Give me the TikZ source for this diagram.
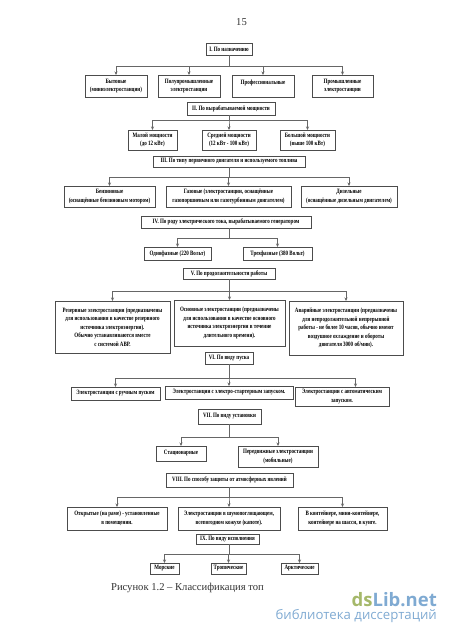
\documentclass[tikz,border=0pt]{standalone}
\usepackage{fontspec}
\usepackage{xcolor}
\setmainfont{Liberation Serif}
\setsansfont{Open Sans}
\newfontfamily\boxfont[FakeStretch=0.76]{Liberation Serif}
\usetikzlibrary{arrows.meta, positioning}
\definecolor{wmgreen}{HTML}{A5B86A}
\definecolor{wmblue}{HTML}{7FAAD2}

\begin{document}
\begin{tikzpicture}[
    box/.style={rectangle, draw=black!70, line width=1pt, inner sep=0pt, outer sep=0pt, align=center, font=\boxfont\bfseries\fontsize{6.6}{8.5}\selectfont},
    arr/.style={-{Stealth[length=3.5pt,width=3pt]}, draw=black!60, line width=0.8pt},
    note/.style={font=\fontsize{10.6}{12}\selectfont, text=black!80, inner sep=0pt}
]
\useasboundingbox (0,0) rectangle (450pt,-637pt);
\coordinate (axis) at (229pt,0);

\node[note] (page) at (241.5pt,-22.5pt) {15};

% Section I
\node[box, minimum width=46pt, minimum height=12pt] (h1) at (229pt,-49pt) {I. По назначению};
\node[box, minimum width=62pt, minimum height=22pt, below=20pt of h1, xshift=-113pt] (bt) {Бытовые\\(миниэлектростанции)};
\node[box, minimum width=62pt, minimum height=22pt, right=11pt of bt] (pp) {Полупромышленные\\электростанции};
\node[box, minimum width=62pt, minimum height=22pt, right=12pt of pp] (pf) {Профессиональные\\~};
\node[box, minimum width=61pt, minimum height=22pt, right=18pt of pf] (pm) {Промышленные\\электростанции};

% Section II
\node[box, minimum width=88pt, minimum height=13pt, below=47pt of h1, xshift=2pt] (h2) {II. По вырабатываемой мощности};
\node[box, minimum width=49pt, minimum height=20pt, below=15pt of h2, xshift=-78.5pt] (ml) {Малой мощности\\(до 12 кВт)};
\node[box, minimum width=54pt, minimum height=20pt, right=25pt of ml] (sr) {Средней мощности\\(12 кВт - 100 кВт)};
\node[box, minimum width=55pt, minimum height=20pt, right=24pt of sr] (bl) {Большой мощности\\(выше 100 кВт)};

% Section III
\node[box, minimum width=152pt, minimum height=11pt, below=41pt of h2, xshift=-2pt] (h3) {III. По типу первичного двигателя и используемого топлива};
\node[box, minimum width=91pt, minimum height=21pt, below=19pt of h3, xshift=-119.5pt] (bz) {Бензиновые\\(оснащённые бензиновым мотором)};
\node[box, minimum width=125pt, minimum height=21pt, right=11pt of bz] (gz) {Газовые (электростанции, оснащённые\\газопоршневым или газотурбинным двигателем)};
\node[box, minimum width=96pt, minimum height=21pt, right=10pt of gz] (dz) {Дизельные\\(оснащённые дизельным двигателем)};

% Section IV
\node[box, minimum width=170pt, minimum height=12pt, below=49pt of h3, xshift=-3pt] (h4) {IV. По роду электрического тока, вырабатываемого генератором};
\node[box, minimum width=67pt, minimum height=13pt, below=19pt of h4, xshift=-48.5pt] (od) {Однофазные (220 Вольт)};
\node[box, minimum width=69pt, minimum height=13pt, right=32pt of od] (tr) {Трехфазные (380 Вольт)};

% Section V
\node[box, minimum width=92pt, minimum height=11pt, below=40pt of h4, xshift=3pt] (h5) {V. По продолжительности работы};
\node[box, minimum width=115pt, minimum height=52pt, below=22pt of h5, xshift=-116.5pt] (rz) {Резервные электростанции (предназначены\\для использования в качестве резервного\\источника электроэнергии).\\Обычно устанавливаются вместе\\с системой АВР.};
\node[box, minimum width=111pt, minimum height=46pt, right=4pt of rz.north east, anchor=north west, yshift=1pt] (os) {Основные электростанции (предназначены\\для использования в качестве основного\\источника электроэнергии в течение\\длительного времени).};
\node[box, minimum width=114pt, minimum height=54pt, right=4pt of os.north east, anchor=north west, yshift=-1pt] (av) {Аварийные электростанции (предназначены\\для непродолжительной непрерывной\\работы - не более 10 часов, обычно имеют\\воздушное охлаждение и обороты\\двигателя 3000 об/мин).};

% Section VI
\node[box, minimum width=48pt, minimum height=12pt, below=73pt of h5] (h6) {VI. По виду пуска};
\node[box, minimum width=89pt, minimum height=13pt, below=23pt of h6, xshift=-113.5pt] (rc) {Электростанции с ручным пуском};
\node[box, minimum width=128pt, minimum height=13pt, right=5pt of rc, yshift=1pt] (es) {Электростанции с электро-стартерным запуском.};
\node[box, minimum width=94pt, minimum height=19pt, right=2pt of es.north east, anchor=north west, yshift=-1pt] (ap) {Электростанции с автоматическим\\запуском.};

% Section VII
\node[box, minimum width=63pt, minimum height=15pt, below=45pt of h6, xshift=0.5pt] (h7) {VII. По виду установки};
\node[box, minimum width=50pt, minimum height=15pt, below=22pt of h7, xshift=-48.5pt] (st) {Стационарные};
\node[box, minimum width=80pt, minimum height=21pt, right=32pt of st.north east, anchor=north west] (pd) {Передвижные электростанции\\(мобильные)};

% Section VIII
\node[box, minimum width=127pt, minimum height=14pt, below=49pt of h7] (h8) {VIII. По способу защиты от атмосферных явлений};
\node[box, minimum width=100pt, minimum height=23pt, below=20pt of h8, xshift=-112.5pt] (ot) {Открытые (на раме) - установленные\\в помещении.};
\node[box, minimum width=102pt, minimum height=23pt, right=11pt of ot] (zv) {Электростанции в шумопоглощающем,\\всепогодном кожухе (капоте).};
\node[box, minimum width=89pt, minimum height=23pt, right=18pt of zv] (kn) {В контейнере, мини-контейнере,\\контейнере на шасси, в кунге.};

% Section IX
\node[box, minimum width=63pt, minimum height=10pt, below=47pt of h8, xshift=-2pt] (h9) {IX. По виду исполнения};
\node[box, minimum width=29pt, minimum height=11pt, below=19pt of h9, xshift=-63pt] (mr) {Морские};
\node[box, minimum width=35pt, minimum height=11pt, right=32pt of mr] (tp) {Тропические};
\node[box, minimum width=37pt, minimum height=11pt, right=35pt of tp] (ar) {Арктические};

% Caption and site mark
\node[note, below=9pt of mr, anchor=north, xshift=23pt] (cap) {Рисунок 1.2 – Классификация топ};
\node[note, anchor=east, font=\sffamily\bfseries\fontsize{18.5}{22}\selectfont] (site) at (437pt,-600pt) {\textcolor{wmgreen}{ds}\textcolor{wmblue}{Lib.net}};
\node[note, below=2pt of site.south east, anchor=north east, font=\sffamily\fontsize{13.2}{16}\selectfont, text=wmblue] (lib) {библиотека диссертаций};

% Arrows
\foreach \k in {bt,pp,pf,pm} \draw[arr] (h1.south -| axis) -- ++(0,-11pt) -| (\k.north);
\foreach \k in {ml,sr,bl} \draw[arr] (h2.south -| axis) -- ++(0,-5pt) -| (\k.north);
\foreach \k in {bz,gz,dz} \draw[arr] (h3.south -| axis) -- ++(0,-10pt) -| (\k.north);
\foreach \k in {od,tr} \draw[arr] (h4.south -| axis) -- ++(0,-10pt) -| (\k.north);
\foreach \k in {rz,os,av} \draw[arr] (h5.south -| axis) -- ++(0,-12pt) -| (\k.north);
\foreach \k in {rc,es} \draw[arr] (h6.south -| axis) -- ++(0,-14pt) -| (\k.north);
\draw[arr] (h6.south -| axis) -- ++(0,-14pt) -| ([xshift=13.5pt]ap.north);
\foreach \k in {st,pd} \draw[arr] (h7.south -| axis) -- ++(0,-13pt) -| (\k.north);
\foreach \k in {ot,zv,kn} \draw[arr] (h8.south -| axis) -- ++(0,-10pt) -| (\k.north);
\foreach \k in {mr,tp,ar} \draw[arr] (h9.south -| axis) -- ++(0,-10pt) -| (\k.north);
\end{tikzpicture}
\end{document}
